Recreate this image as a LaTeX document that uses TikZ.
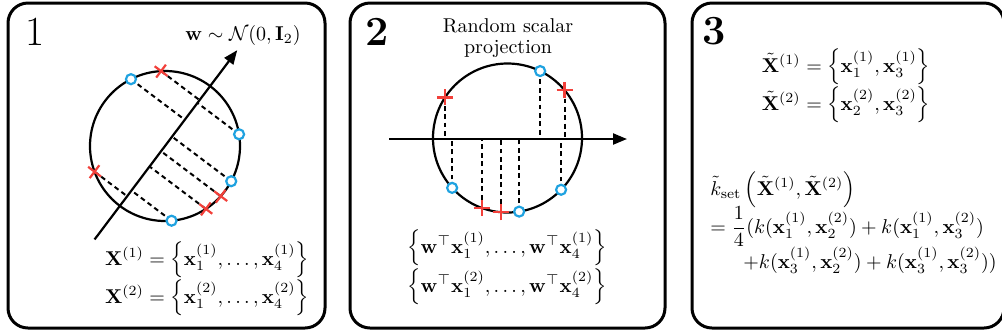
\documentclass[tikz,border=0pt]{standalone}
\usepackage{amsmath}
\usepackage{xcolor}
\usepackage{tikz}
\usetikzlibrary{arrows.meta,calc,shapes.misc}
\definecolor{ciano}{HTML}{1FA2E0}
\definecolor{rosso}{HTML}{F2403A}
\tikzset{
  pannello/.style={line width=1.5pt, rounded corners=10pt},
  tratt/.style={line width=1pt, dash pattern=on 2.4pt off 1.8pt},
  cerchietto/.style={circle, draw=ciano, fill=white, line width=1.1pt, inner sep=0pt, minimum size=5pt},
  croce/.style={cross out, draw=rosso, line width=1.1pt, inner sep=0pt, minimum size=4.6pt},
  freccia/.style={line width=1.1pt, -{Triangle[length=7pt,width=5.5pt]}},
}

\begin{document}
\begin{tikzpicture}[x=0.5pt, y=-0.5pt]
        \useasboundingbox (0,0) rectangle (1002,334);
        % riquadri
        \draw[pannello] (8,3) rectangle (325,328);
        \draw[pannello] (350,3) rectangle (665,328);
        \draw[pannello] (692,3) rectangle (1004,328);
        \node (n1) at (35,32) {\huge 1};
        \node (n2) at (377,32) {\huge\bfseries 2};
        \node (n3) at (714,31) {\huge\bfseries 3};

        % pannello 1: proiezione sulla direzione w
        \coordinate (c1) at (165,146);
        \coordinate (w0) at ($(c1)+(-233:117)$);
        \coordinate (w1) at ($(c1)+(-53:120)$);
        \draw[line width=1.1pt] (c1) circle (75);
        \foreach \a [count=\i] in {64,316,279,222,40,147,265,250} {
            \coordinate (p\i) at ($(c1)+(-\a-53:75)$);
            \draw[tratt] (p\i) -- ($(w0)!(p\i)!(w1)$);
        }
        \draw[freccia] (w0) -- (w1);
        \foreach \a [count=\i] in {64,316,279,222}
            \node[cerchietto] (b1\i) at ($(c1)+(-\a-53:75)$) {};
        \foreach \a [count=\i] in {40,147,265,250}
            \node[croce, rotate=98] (r1\i) at ($(c1)+(-\a-53:75)$) {};
        \node (wlab) at (243,35) {$\mathbf{w}\sim\mathcal{N}(0,\mathbf{I}_2)$};
        \node (X1) at (207,260) {$\mathbf{X}^{(1)}=\left\{\mathbf{x}_1^{(1)},\ldots,\mathbf{x}_4^{(1)}\right\}$};
        \node (X2) at (207,298) {$\mathbf{X}^{(2)}=\left\{\mathbf{x}_1^{(2)},\ldots,\mathbf{x}_4^{(2)}\right\}$};

        % pannello 2: proiezione scalare
        \node[align=center, font=\fontsize{10}{10.5}\selectfont] (tit) at (508,38) {Random scalar\\projection};
        \coordinate (c2) at (507.5,138);
        \coordinate (a0) at (389,139);
        \coordinate (a1) at (627,139);
        \draw[line width=1.1pt] (c2) circle (74.5);
        \foreach \a [count=\i] in {64,316,279,222,40,147,265,250} {
            \coordinate (q\i) at ($(c2)+(-\a:74.5)$);
            \draw[tratt] (q\i) -- (q\i |- a0);
        }
        \draw[freccia] (a0) -- (a1);
        \foreach \a [count=\i] in {64,316,279,222}
            \node[cerchietto] (b2\i) at ($(c2)+(-\a:74.5)$) {};
        \foreach \a [count=\i] in {40,147,265,250}
            \node[croce, rotate=45] (r2\i) at ($(c2)+(-\a:74.5)$) {};
        \node (P1) at (507,248) {$\left\{\mathbf{w}^{\top}\mathbf{x}_1^{(1)},\ldots,\mathbf{w}^{\top}\mathbf{x}_4^{(1)}\right\}$};
        \node (P2) at (507,287) {$\left\{\mathbf{w}^{\top}\mathbf{x}_1^{(2)},\ldots,\mathbf{w}^{\top}\mathbf{x}_4^{(2)}\right\}$};

        % pannello 3: sottoinsiemi e kernel
        \node (S1) at (846,67) {$\tilde{\mathbf{X}}^{(1)}=\left\{\mathbf{x}_1^{(1)},\mathbf{x}_3^{(1)}\right\}$};
        \node (S2) at (846,105) {$\tilde{\mathbf{X}}^{(2)}=\left\{\mathbf{x}_2^{(2)},\mathbf{x}_3^{(2)}\right\}$};
        \node[anchor=base west, inner sep=0pt] (K1) at (710,195) {$\tilde{k}_{\mathrm{set}}\left(\tilde{\mathbf{X}}^{(1)},\tilde{\mathbf{X}}^{(2)}\right)$};
        \node[anchor=base west, inner sep=0pt] (K2) at (710,233) {$=\dfrac{1}{4}(k(\mathbf{x}_1^{(1)},\mathbf{x}_2^{(2)})+k(\mathbf{x}_1^{(1)},\mathbf{x}_3^{(2)})$};
        \node[anchor=base west, inner sep=0pt] (K3) at (743,268) {$+k(\mathbf{x}_3^{(1)},\mathbf{x}_2^{(2)})+k(\mathbf{x}_3^{(1)},\mathbf{x}_3^{(2)}))$};
    \end{tikzpicture}
\end{document}
